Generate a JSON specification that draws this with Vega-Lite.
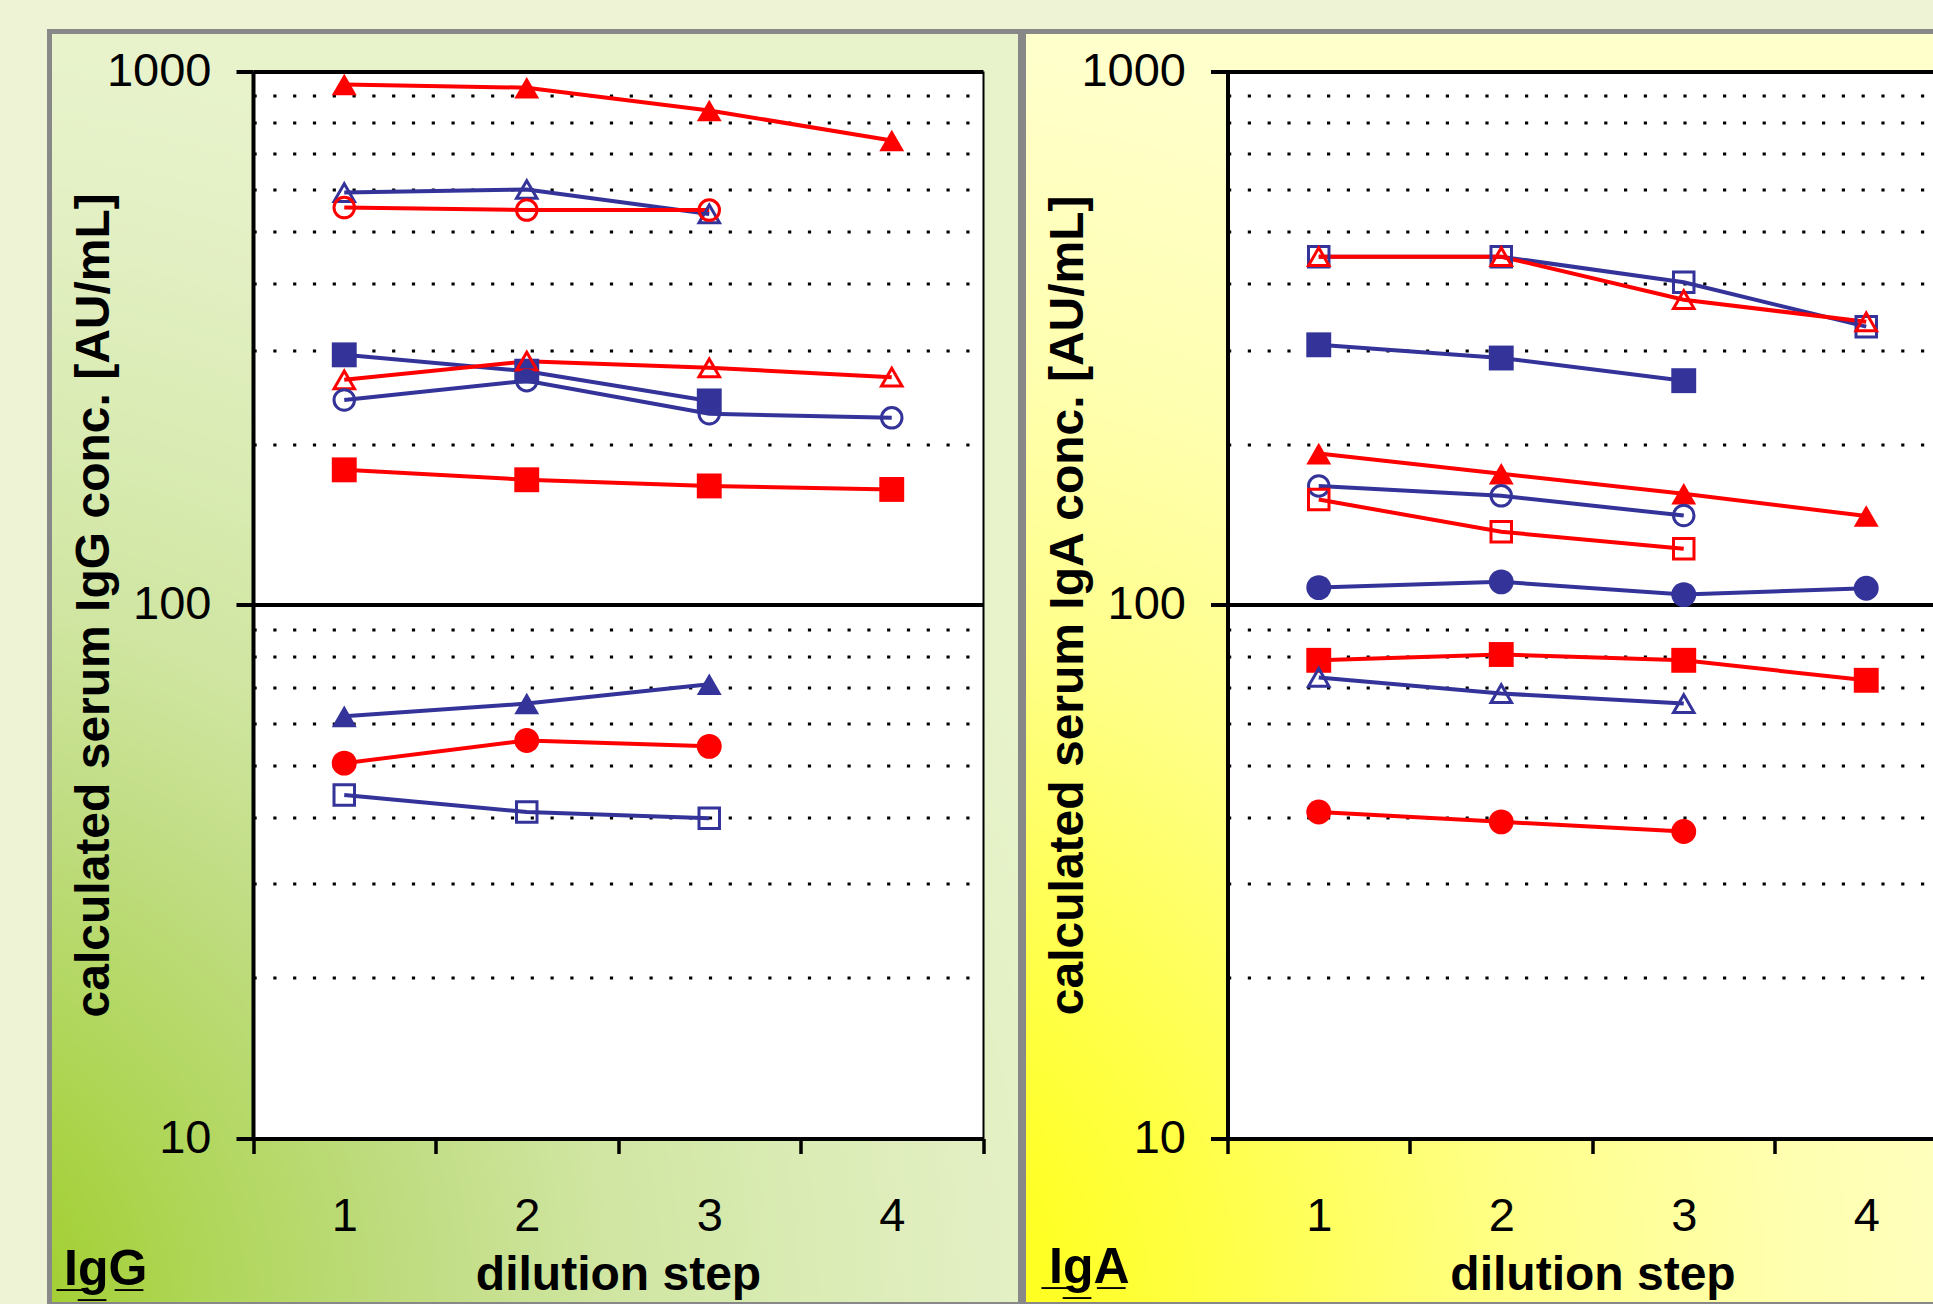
{
  "$schema": "https://vega.github.io/schema/vega-lite/v6.json",
  "background": "#eef3d6",
  "padding": {"left": 46.5, "top": 28.5, "right": 0, "bottom": 0},
  "spacing": -5,
  "config": {
    "font": "Liberation Sans",
    "axis": {"labelColor": "#000000", "titleColor": "#000000", "domainColor": "#000000", "tickColor": "#000000"}
  },
  "data": {
    "values": [
      {"panel": "IgG", "series": "G1", "group": "A", "symbol": "triangle", "fill": "filled", "step": 1, "value": 944},
      {"panel": "IgG", "series": "G1", "group": "A", "symbol": "triangle", "fill": "filled", "step": 2, "value": 931},
      {"panel": "IgG", "series": "G1", "group": "A", "symbol": "triangle", "fill": "filled", "step": 3, "value": 844},
      {"panel": "IgG", "series": "G1", "group": "A", "symbol": "triangle", "fill": "filled", "step": 4, "value": 741},
      {"panel": "IgG", "series": "G2", "group": "B", "symbol": "triangle", "fill": "open", "step": 1, "value": 592},
      {"panel": "IgG", "series": "G2", "group": "B", "symbol": "triangle", "fill": "open", "step": 2, "value": 600},
      {"panel": "IgG", "series": "G2", "group": "B", "symbol": "triangle", "fill": "open", "step": 3, "value": 540},
      {"panel": "IgG", "series": "G3", "group": "A", "symbol": "circle", "fill": "open", "step": 1, "value": 555},
      {"panel": "IgG", "series": "G3", "group": "A", "symbol": "circle", "fill": "open", "step": 2, "value": 549},
      {"panel": "IgG", "series": "G3", "group": "A", "symbol": "circle", "fill": "open", "step": 3, "value": 549},
      {"panel": "IgG", "series": "G4", "group": "B", "symbol": "square", "fill": "filled", "step": 1, "value": 294},
      {"panel": "IgG", "series": "G4", "group": "B", "symbol": "square", "fill": "filled", "step": 2, "value": 274},
      {"panel": "IgG", "series": "G4", "group": "B", "symbol": "square", "fill": "filled", "step": 3, "value": 241},
      {"panel": "IgG", "series": "G5", "group": "A", "symbol": "triangle", "fill": "open", "step": 1, "value": 264},
      {"panel": "IgG", "series": "G5", "group": "A", "symbol": "triangle", "fill": "open", "step": 2, "value": 286},
      {"panel": "IgG", "series": "G5", "group": "A", "symbol": "triangle", "fill": "open", "step": 3, "value": 278},
      {"panel": "IgG", "series": "G5", "group": "A", "symbol": "triangle", "fill": "open", "step": 4, "value": 267},
      {"panel": "IgG", "series": "G6", "group": "B", "symbol": "circle", "fill": "open", "step": 1, "value": 242},
      {"panel": "IgG", "series": "G6", "group": "B", "symbol": "circle", "fill": "open", "step": 2, "value": 263},
      {"panel": "IgG", "series": "G6", "group": "B", "symbol": "circle", "fill": "open", "step": 3, "value": 228},
      {"panel": "IgG", "series": "G6", "group": "B", "symbol": "circle", "fill": "open", "step": 4, "value": 224},
      {"panel": "IgG", "series": "G7", "group": "A", "symbol": "square", "fill": "filled", "step": 1, "value": 179},
      {"panel": "IgG", "series": "G7", "group": "A", "symbol": "square", "fill": "filled", "step": 2, "value": 171.5},
      {"panel": "IgG", "series": "G7", "group": "A", "symbol": "square", "fill": "filled", "step": 3, "value": 167},
      {"panel": "IgG", "series": "G7", "group": "A", "symbol": "square", "fill": "filled", "step": 4, "value": 164.5},
      {"panel": "IgG", "series": "G8", "group": "B", "symbol": "triangle", "fill": "filled", "step": 1, "value": 61.8},
      {"panel": "IgG", "series": "G8", "group": "B", "symbol": "triangle", "fill": "filled", "step": 2, "value": 65.3},
      {"panel": "IgG", "series": "G8", "group": "B", "symbol": "triangle", "fill": "filled", "step": 3, "value": 71},
      {"panel": "IgG", "series": "G9", "group": "A", "symbol": "circle", "fill": "filled", "step": 1, "value": 50.5},
      {"panel": "IgG", "series": "G9", "group": "A", "symbol": "circle", "fill": "filled", "step": 2, "value": 55.7},
      {"panel": "IgG", "series": "G9", "group": "A", "symbol": "circle", "fill": "filled", "step": 3, "value": 54.3},
      {"panel": "IgG", "series": "G10", "group": "B", "symbol": "square", "fill": "open", "step": 1, "value": 44},
      {"panel": "IgG", "series": "G10", "group": "B", "symbol": "square", "fill": "open", "step": 2, "value": 40.9},
      {"panel": "IgG", "series": "G10", "group": "B", "symbol": "square", "fill": "open", "step": 3, "value": 39.8},
      {"panel": "IgA", "series": "A1", "group": "B", "symbol": "square", "fill": "open", "step": 1, "value": 449},
      {"panel": "IgA", "series": "A1", "group": "B", "symbol": "square", "fill": "open", "step": 2, "value": 449},
      {"panel": "IgA", "series": "A1", "group": "B", "symbol": "square", "fill": "open", "step": 3, "value": 402},
      {"panel": "IgA", "series": "A1", "group": "B", "symbol": "square", "fill": "open", "step": 4, "value": 332},
      {"panel": "IgA", "series": "A2", "group": "A", "symbol": "triangle", "fill": "open", "step": 1, "value": 449},
      {"panel": "IgA", "series": "A2", "group": "A", "symbol": "triangle", "fill": "open", "step": 2, "value": 449},
      {"panel": "IgA", "series": "A2", "group": "A", "symbol": "triangle", "fill": "open", "step": 3, "value": 373},
      {"panel": "IgA", "series": "A2", "group": "A", "symbol": "triangle", "fill": "open", "step": 4, "value": 339},
      {"panel": "IgA", "series": "A3", "group": "B", "symbol": "square", "fill": "filled", "step": 1, "value": 307},
      {"panel": "IgA", "series": "A3", "group": "B", "symbol": "square", "fill": "filled", "step": 2, "value": 290},
      {"panel": "IgA", "series": "A3", "group": "B", "symbol": "square", "fill": "filled", "step": 3, "value": 263},
      {"panel": "IgA", "series": "A4", "group": "A", "symbol": "triangle", "fill": "filled", "step": 1, "value": 192},
      {"panel": "IgA", "series": "A4", "group": "A", "symbol": "triangle", "fill": "filled", "step": 2, "value": 176},
      {"panel": "IgA", "series": "A4", "group": "A", "symbol": "triangle", "fill": "filled", "step": 3, "value": 161.4},
      {"panel": "IgA", "series": "A4", "group": "A", "symbol": "triangle", "fill": "filled", "step": 4, "value": 146.7},
      {"panel": "IgA", "series": "A5", "group": "B", "symbol": "circle", "fill": "open", "step": 1, "value": 167},
      {"panel": "IgA", "series": "A5", "group": "B", "symbol": "circle", "fill": "open", "step": 2, "value": 160},
      {"panel": "IgA", "series": "A5", "group": "B", "symbol": "circle", "fill": "open", "step": 3, "value": 147},
      {"panel": "IgA", "series": "A6", "group": "A", "symbol": "square", "fill": "open", "step": 1, "value": 157.5},
      {"panel": "IgA", "series": "A6", "group": "A", "symbol": "square", "fill": "open", "step": 2, "value": 137},
      {"panel": "IgA", "series": "A6", "group": "A", "symbol": "square", "fill": "open", "step": 3, "value": 127.4},
      {"panel": "IgA", "series": "A7", "group": "B", "symbol": "circle", "fill": "filled", "step": 1, "value": 107.7},
      {"panel": "IgA", "series": "A7", "group": "B", "symbol": "circle", "fill": "filled", "step": 2, "value": 110.4},
      {"panel": "IgA", "series": "A7", "group": "B", "symbol": "circle", "fill": "filled", "step": 3, "value": 104.5},
      {"panel": "IgA", "series": "A7", "group": "B", "symbol": "circle", "fill": "filled", "step": 4, "value": 107.4},
      {"panel": "IgA", "series": "A8", "group": "A", "symbol": "square", "fill": "filled", "step": 1, "value": 78.7},
      {"panel": "IgA", "series": "A8", "group": "A", "symbol": "square", "fill": "filled", "step": 2, "value": 80.7},
      {"panel": "IgA", "series": "A8", "group": "A", "symbol": "square", "fill": "filled", "step": 3, "value": 78.7},
      {"panel": "IgA", "series": "A8", "group": "A", "symbol": "square", "fill": "filled", "step": 4, "value": 72.2},
      {"panel": "IgA", "series": "A9", "group": "B", "symbol": "triangle", "fill": "open", "step": 1, "value": 73.1},
      {"panel": "IgA", "series": "A9", "group": "B", "symbol": "triangle", "fill": "open", "step": 2, "value": 68.2},
      {"panel": "IgA", "series": "A9", "group": "B", "symbol": "triangle", "fill": "open", "step": 3, "value": 65.3},
      {"panel": "IgA", "series": "A10", "group": "A", "symbol": "circle", "fill": "filled", "step": 1, "value": 40.9},
      {"panel": "IgA", "series": "A10", "group": "A", "symbol": "circle", "fill": "filled", "step": 2, "value": 39.2},
      {"panel": "IgA", "series": "A10", "group": "A", "symbol": "circle", "fill": "filled", "step": 3, "value": 37.6}
    ]
  },
  "hconcat": [
    {
      "width": 971,
      "height": 1273,
      "view": {
        "fill": {"gradient": "radial", "x1": 0, "y1": 1, "r1": 0, "x2": 0, "y2": 1, "r2": 1,
          "stops": [
            {"offset": 0, "color": "#9bcb22"}, {"offset": 0.1, "color": "#a2cf30"},
            {"offset": 0.25, "color": "#b0d65a"}, {"offset": 0.4, "color": "#bfdc80"},
            {"offset": 0.55, "color": "#cfe5a0"}, {"offset": 0.7, "color": "#d9ebb2"},
            {"offset": 0.85, "color": "#e2efc2"}, {"offset": 1, "color": "#e8f3cc"}]},
        "stroke": "#888888",
        "strokeWidth": 5
      },
      "transform": [{"filter": "datum.panel === 'IgG'"}],
      "resolve": {"axis": {"x": "independent", "y": "independent"}},
      "layer": [
        {
          "mark": {"type": "line", "strokeWidth": 4},
          "encoding": {
            "x": {"field": "step", "type": "quantitative",
              "scale": {"domain": [0.5, 4.5], "range": [203.5, 933.5], "nice": false, "zero": false},
              "axis": {"orient": "top", "offset": 0, "values": [2.5], "grid": true, "gridColor": "#ffffff", "gridWidth": 730, "gridOpacity": 1, "ticks": false, "labels": false, "domain": false,
                "title": "I\u0332g\u0332G\u0332", "titleFontSize": 50, "titleFontWeight": "bold", "titleX": 14, "titleY": 1253, "titleAlign": "left", "titleBaseline": "alphabetic", "zindex": 0}},
            "y": {"field": "value", "type": "quantitative",
              "scale": {"type": "log", "domain": [10, 1000], "range": [1107, 39.6], "nice": false},
              "axis": {"orient": "right", "offset": -37.5, "domain": true, "domainWidth": 2, "ticks": false, "labels": false, "grid": false, "title": null, "zindex": 0}},
            "color": {"field": "group", "type": "nominal", "scale": {"domain": ["A", "B"], "range": ["#ff0000", "#333399"]}, "legend": null},
            "detail": {"field": "series"}
          }
        },
        {
          "transform": [{"filter": "datum.fill === 'filled'"}],
          "mark": {"type": "point", "filled": true, "size": 620, "opacity": 1, "strokeWidth": 0},
          "encoding": {
            "x": {"field": "step", "type": "quantitative",
              "scale": {"domain": [0.5, 4.5], "range": [203.5, 933.5], "nice": false, "zero": false},
              "axis": {"orient": "bottom", "offset": -166, "values": [0.5, 1.5, 2.5, 3.5, 4.5], "grid": false, "ticks": true, "tickSize": 15, "tickWidth": 3.5, "labels": false, "domain": true, "domainWidth": 4, "title": null, "zindex": 0}},
            "y": {"field": "value", "type": "quantitative",
              "scale": {"type": "log", "domain": [10, 1000], "range": [1107, 39.6], "nice": false},
              "axis": {"orient": "left", "offset": -203.5, "values": [20, 30, 40, 50, 60, 70, 80, 90, 200, 300, 400, 500, 600, 700, 800, 900], "grid": true, "gridColor": "#000000", "gridWidth": 3.2, "gridDash": [3.2, 16.6], "gridOpacity": 1, "ticks": false, "labels": false, "domain": false, "title": null, "zindex": 0}},
            "color": {"field": "group", "type": "nominal", "scale": {"domain": ["A", "B"], "range": ["#ff0000", "#333399"]}, "legend": null},
            "shape": {"field": "symbol", "type": "nominal", "scale": {"domain": ["triangle", "circle", "square"], "range": ["triangle-up", "circle", "square"]}, "legend": null}
          }
        },
        {
          "transform": [{"filter": "datum.fill === 'open'"}],
          "mark": {"type": "point", "filled": false, "size": 420, "strokeWidth": 3, "opacity": 1},
          "encoding": {
            "x": {"field": "step", "type": "quantitative",
              "scale": {"domain": [0.5, 4.5], "range": [203.5, 933.5], "nice": false, "zero": false},
              "axis": {"orient": "bottom", "offset": -166, "values": [1, 2, 3, 4], "format": "d", "grid": false, "ticks": false, "tickSize": 0, "labels": true, "labelFontSize": 47, "labelPadding": 92, "labelBaseline": "alphabetic", "labelFlush": false, "labelOverlap": false, "domain": false,
                "title": "dilution step", "titleFontSize": 48, "titleFontWeight": "bold", "titleBaseline": "alphabetic", "titleX": 568.5, "titleY": 151, "zindex": 0}},
            "y": {"field": "value", "type": "quantitative",
              "scale": {"type": "log", "domain": [10, 1000], "range": [1107, 39.6], "nice": false},
              "axis": {"orient": "left", "offset": -203.5, "values": [10, 100, 1000], "format": "d", "grid": true, "gridColor": "#000000", "gridWidth": 4, "gridOpacity": 1, "ticks": true, "tickSize": 17, "tickWidth": 4, "labels": true, "labelFontSize": 47, "labelPadding": 25, "labelBaseline": "middle", "labelFlush": false, "labelOverlap": false, "domain": true, "domainWidth": 4,
                "title": "calculated serum IgG conc. [AU/mL]", "titleFontSize": 48, "titleFontWeight": "bold", "titleAngle": 270, "titleX": -145, "titleBaseline": "alphabetic", "zindex": 0}},
            "color": {"field": "group", "type": "nominal", "scale": {"domain": ["A", "B"], "range": ["#ff0000", "#333399"]}, "legend": null},
            "shape": {"field": "symbol", "type": "nominal", "scale": {"domain": ["triangle", "circle", "square"], "range": ["triangle-up", "circle", "square"]}, "legend": null}
          }
        }
      ]
    },
    {
      "width": 913,
      "height": 1273,
      "view": {
        "fill": {"gradient": "radial", "x1": 0, "y1": 1, "r1": 0, "x2": 0, "y2": 1, "r2": 1,
          "stops": [
            {"offset": 0, "color": "#ffff00"}, {"offset": 0.15, "color": "#ffff22"},
            {"offset": 0.3, "color": "#ffff48"}, {"offset": 0.53, "color": "#ffff88"},
            {"offset": 0.75, "color": "#ffffb0"}, {"offset": 1, "color": "#ffffcc"}]},
        "stroke": "#888888",
        "strokeWidth": 5
      },
      "transform": [{"filter": "datum.panel === 'IgA'"}],
      "resolve": {"axis": {"x": "independent", "y": "independent"}},
      "layer": [
        {
          "mark": {"type": "line", "strokeWidth": 4},
          "encoding": {
            "x": {"field": "step", "type": "quantitative",
              "scale": {"domain": [0.5, 4.385], "range": [204, 913], "nice": false, "zero": false},
              "axis": {"orient": "top", "offset": 0, "values": [2.4425], "grid": true, "gridColor": "#ffffff", "gridWidth": 709, "gridOpacity": 1, "ticks": false, "labels": false, "domain": false,
                "title": "I\u0332g\u0332A\u0332", "titleFontSize": 50, "titleFontWeight": "bold", "titleX": 25, "titleY": 1251, "titleAlign": "left", "titleBaseline": "alphabetic", "zindex": 0}},
            "y": {"field": "value", "type": "quantitative",
              "scale": {"type": "log", "domain": [10, 1000], "range": [1107, 39.6], "nice": false},
              "axis": null},
            "color": {"field": "group", "type": "nominal", "scale": {"domain": ["A", "B"], "range": ["#ff0000", "#333399"]}, "legend": null},
            "detail": {"field": "series"}
          }
        },
        {
          "transform": [{"filter": "datum.fill === 'filled'"}],
          "mark": {"type": "point", "filled": true, "size": 620, "opacity": 1, "strokeWidth": 0},
          "encoding": {
            "x": {"field": "step", "type": "quantitative",
              "scale": {"domain": [0.5, 4.385], "range": [204, 913], "nice": false, "zero": false},
              "axis": {"orient": "bottom", "offset": -166, "values": [0.5, 1.5, 2.5, 3.5], "grid": false, "ticks": true, "tickSize": 15, "tickWidth": 3.5, "labels": false, "domain": true, "domainWidth": 4, "title": null, "zindex": 0}},
            "y": {"field": "value", "type": "quantitative",
              "scale": {"type": "log", "domain": [10, 1000], "range": [1107, 39.6], "nice": false},
              "axis": {"orient": "left", "offset": -204, "values": [20, 30, 40, 50, 60, 70, 80, 90, 200, 300, 400, 500, 600, 700, 800, 900], "grid": true, "gridColor": "#000000", "gridWidth": 3.2, "gridDash": [3.2, 16.6], "gridOpacity": 1, "ticks": false, "labels": false, "domain": false, "title": null, "zindex": 0}},
            "color": {"field": "group", "type": "nominal", "scale": {"domain": ["A", "B"], "range": ["#ff0000", "#333399"]}, "legend": null},
            "shape": {"field": "symbol", "type": "nominal", "scale": {"domain": ["triangle", "circle", "square"], "range": ["triangle-up", "circle", "square"]}, "legend": null}
          }
        },
        {
          "transform": [{"filter": "datum.fill === 'open'"}],
          "mark": {"type": "point", "filled": false, "size": 420, "strokeWidth": 3, "opacity": 1},
          "encoding": {
            "x": {"field": "step", "type": "quantitative",
              "scale": {"domain": [0.5, 4.385], "range": [204, 913], "nice": false, "zero": false},
              "axis": {"orient": "bottom", "offset": -166, "values": [1, 2, 3, 4], "format": "d", "grid": false, "ticks": false, "tickSize": 0, "labels": true, "labelFontSize": 47, "labelPadding": 92, "labelBaseline": "alphabetic", "labelFlush": false, "labelOverlap": false, "domain": false,
                "title": "dilution step", "titleFontSize": 48, "titleFontWeight": "bold", "titleBaseline": "alphabetic", "titleX": 569, "titleY": 151, "zindex": 0}},
            "y": {"field": "value", "type": "quantitative",
              "scale": {"type": "log", "domain": [10, 1000], "range": [1107, 39.6], "nice": false},
              "axis": {"orient": "left", "offset": -204, "values": [10, 100, 1000], "format": "d", "grid": true, "gridColor": "#000000", "gridWidth": 4, "gridOpacity": 1, "ticks": true, "tickSize": 17, "tickWidth": 4, "labels": true, "labelFontSize": 47, "labelPadding": 25, "labelBaseline": "middle", "labelFlush": false, "labelOverlap": false, "domain": true, "domainWidth": 4,
                "title": "calculated serum IgA conc. [AU/mL]", "titleFontSize": 48, "titleFontWeight": "bold", "titleAngle": 270, "titleX": -145, "titleBaseline": "alphabetic", "zindex": 0}},
            "color": {"field": "group", "type": "nominal", "scale": {"domain": ["A", "B"], "range": ["#ff0000", "#333399"]}, "legend": null},
            "shape": {"field": "symbol", "type": "nominal", "scale": {"domain": ["triangle", "circle", "square"], "range": ["triangle-up", "circle", "square"]}, "legend": null}
          }
        }
      ]
    }
  ]
}
